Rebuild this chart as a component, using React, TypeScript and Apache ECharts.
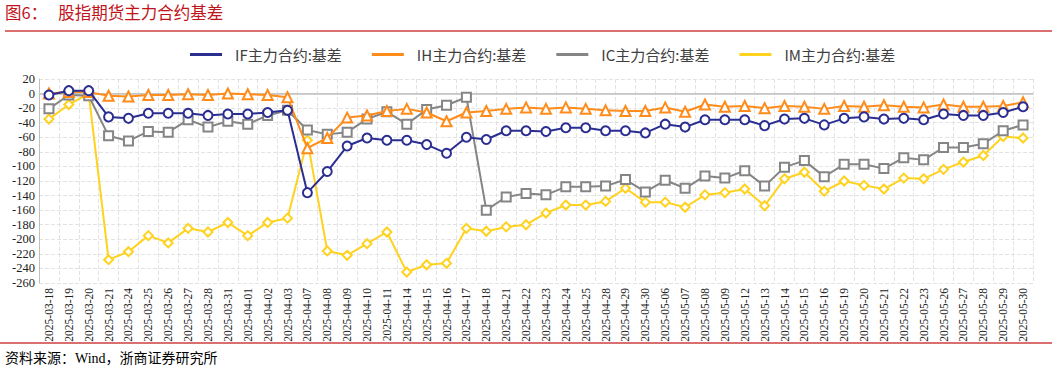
import React, { useEffect, useRef } from "react";
import * as echarts from "echarts";

const dates = [
  "2025-03-18","2025-03-19","2025-03-20","2025-03-21","2025-03-24","2025-03-25","2025-03-26","2025-03-27","2025-03-28","2025-03-31",
  "2025-04-01","2025-04-02","2025-04-03","2025-04-07","2025-04-08","2025-04-09","2025-04-10","2025-04-11","2025-04-14","2025-04-15",
  "2025-04-16","2025-04-17","2025-04-18","2025-04-21","2025-04-22","2025-04-23","2025-04-24","2025-04-25","2025-04-28","2025-04-29",
  "2025-04-30","2025-05-06","2025-05-07","2025-05-08","2025-05-09","2025-05-12","2025-05-13","2025-05-14","2025-05-15","2025-05-16",
  "2025-05-19","2025-05-20","2025-05-21","2025-05-22","2025-05-23","2025-05-26","2025-05-27","2025-05-28","2025-05-29","2025-05-30",
];

const ifBasis = [
  -2, 4, 4, -32, -34, -27, -27, -27, -30, -28,
  -28, -26, -23, -136, -107, -72, -61, -64, -64, -70,
  -82, -60, -63, -51, -51, -52, -47, -47, -51, -51,
  -54, -42, -46, -36, -36, -36, -44, -35, -34, -43,
  -34, -32, -35, -34, -36, -28, -30, -30, -26, -18,
];
const ihBasis = [
  0, 2, 2, -3, -4, -2, -2, -1, -2, 0,
  -1, -2, -5, -75, -61, -33, -30, -24, -21, -26,
  -38, -26, -24, -21, -19, -21, -19, -21, -23, -24,
  -24, -19, -25, -15, -18, -17, -20, -17, -18, -21,
  -17, -18, -16, -18, -19, -15, -18, -18, -17, -12,
];
const icBasis = [
  -21, -2, -3, -58, -65, -52, -53, -36, -46, -38,
  -42, -30, -23, -50, -56, -53, -35, -25, -42, -22,
  -16, -5, -160, -142, -137, -139, -128, -128, -127, -118,
  -135, -119, -130, -113, -116, -106, -127, -101, -92, -114,
  -97, -97, -103, -88, -91, -74, -74, -69, -51, -43,
];
const imBasis = [
  -35, -15, 0, -228, -217, -195, -205, -185, -190, -177,
  -195, -177, -171, -64, -216, -222, -206, -190, -245, -235,
  -233, -185, -189, -183, -180, -164, -153, -153, -148, -130,
  -149, -149, -156, -139, -136, -131, -154, -117, -108, -134,
  -120, -126, -131, -116, -117, -104, -94, -85, -59, -61,
];

const seriesNames = ["IF主力合约:基差", "IH主力合约:基差", "IC主力合约:基差", "IM主力合约:基差"];
const colors = ["#2B2E91", "#FF8C1A", "#858585", "#FFD21F"];
const symbols = ["emptyCircle", "emptyTriangle", "emptyRect", "emptyDiamond"];

export default function App() {
  const ref = useRef<HTMLDivElement>(null);
  useEffect(() => {
    if (!ref.current) return;
    const chart = echarts.init(ref.current, undefined, { renderer: "svg" });
    const datasets = [ifBasis, ihBasis, icBasis, imBasis];
    const serif = "'Liberation Serif', 'Times New Roman', serif";
    const cjk = "'Noto Sans CJK SC', sans-serif";
    chart.setOption({
      animation: false,
      backgroundColor: "#ffffff",
      grid: { left: 39, right: 24, top: 79, bottom: 91, containLabel: false },
      legend: {
        top: 42,
        left: 185,
        icon: "rect",
        itemWidth: 32,
        itemHeight: 3,
        itemGap: 30,
        data: seriesNames,
        textStyle: { fontSize: 15, color: "#404040", fontFamily: cjk, padding: [0, 0, 0, 8] },
      },
      xAxis: {
        type: "category",
        data: dates,
        boundaryGap: true,
        axisLine: { show: true, lineStyle: { color: "#d9d9d9" } },
        axisTick: { show: false },
        axisLabel: {
          rotate: 90,
          interval: 0,
          fontSize: 11.5,
          color: "#222",
          fontFamily: serif,
          margin: 5,
        },
        splitLine: { show: true, lineStyle: { color: "#e3e3e3", type: "dashed" } },
      },
      yAxis: {
        type: "value",
        min: -260,
        max: 20,
        interval: 20,
        axisLine: { show: true, lineStyle: { color: "#bfbfbf" } },
        axisTick: { show: false },
        axisLabel: { fontSize: 12.5, color: "#222", fontFamily: serif, margin: 4 },
        splitLine: { show: true, lineStyle: { color: "#e3e3e3", type: "dashed" } },
      },
      series: datasets.map((d, i) => ({
        name: seriesNames[i],
        type: "line",
        data: d,
        symbol: symbols[i],
        symbolSize: i === 1 ? 10 : 9,
        color: colors[i],
        lineStyle: { width: 2, color: colors[i] },
        itemStyle: { color: colors[i], borderWidth: 1.6 },
        z: 10 - i,
        markLine: i === 0 ? {
          silent: true,
          symbol: "none",
          label: { show: false },
          lineStyle: { color: "#bfbfbf", type: "solid", width: 1.5 },
          data: [{ yAxis: 0 }],
          z: 1,
        } : undefined,
      })),
      graphic: [
        {
          type: "text",
          left: 5,
          top: 4,
          style: { text: "图6：   股指期货主力合约基差", fill: "#C0141B", fontSize: 16.5, fontFamily: cjk },
        },
        {
          type: "rect",
          shape: { x: 5, y: 30, width: 1047, height: 2 },
          style: { fill: "#D9706F" },
        },
        {
          type: "rect",
          shape: { x: 0, y: 342, width: 1052, height: 2 },
          style: { fill: "#D9706F" },
        },
        {
          type: "text",
          left: 5,
          top: 351,
          style: { text: "资料来源：Wind，浙商证券研究所", fill: "#000", fontSize: 14, fontFamily: "'Liberation Serif', 'Noto Sans CJK SC', serif" },
        },
      ],
    });
    return () => chart.dispose();
  }, []);
  return <div ref={ref} style={{ position: "fixed", left: 0, top: 0, width: 1057, height: 374 }} />;
}
